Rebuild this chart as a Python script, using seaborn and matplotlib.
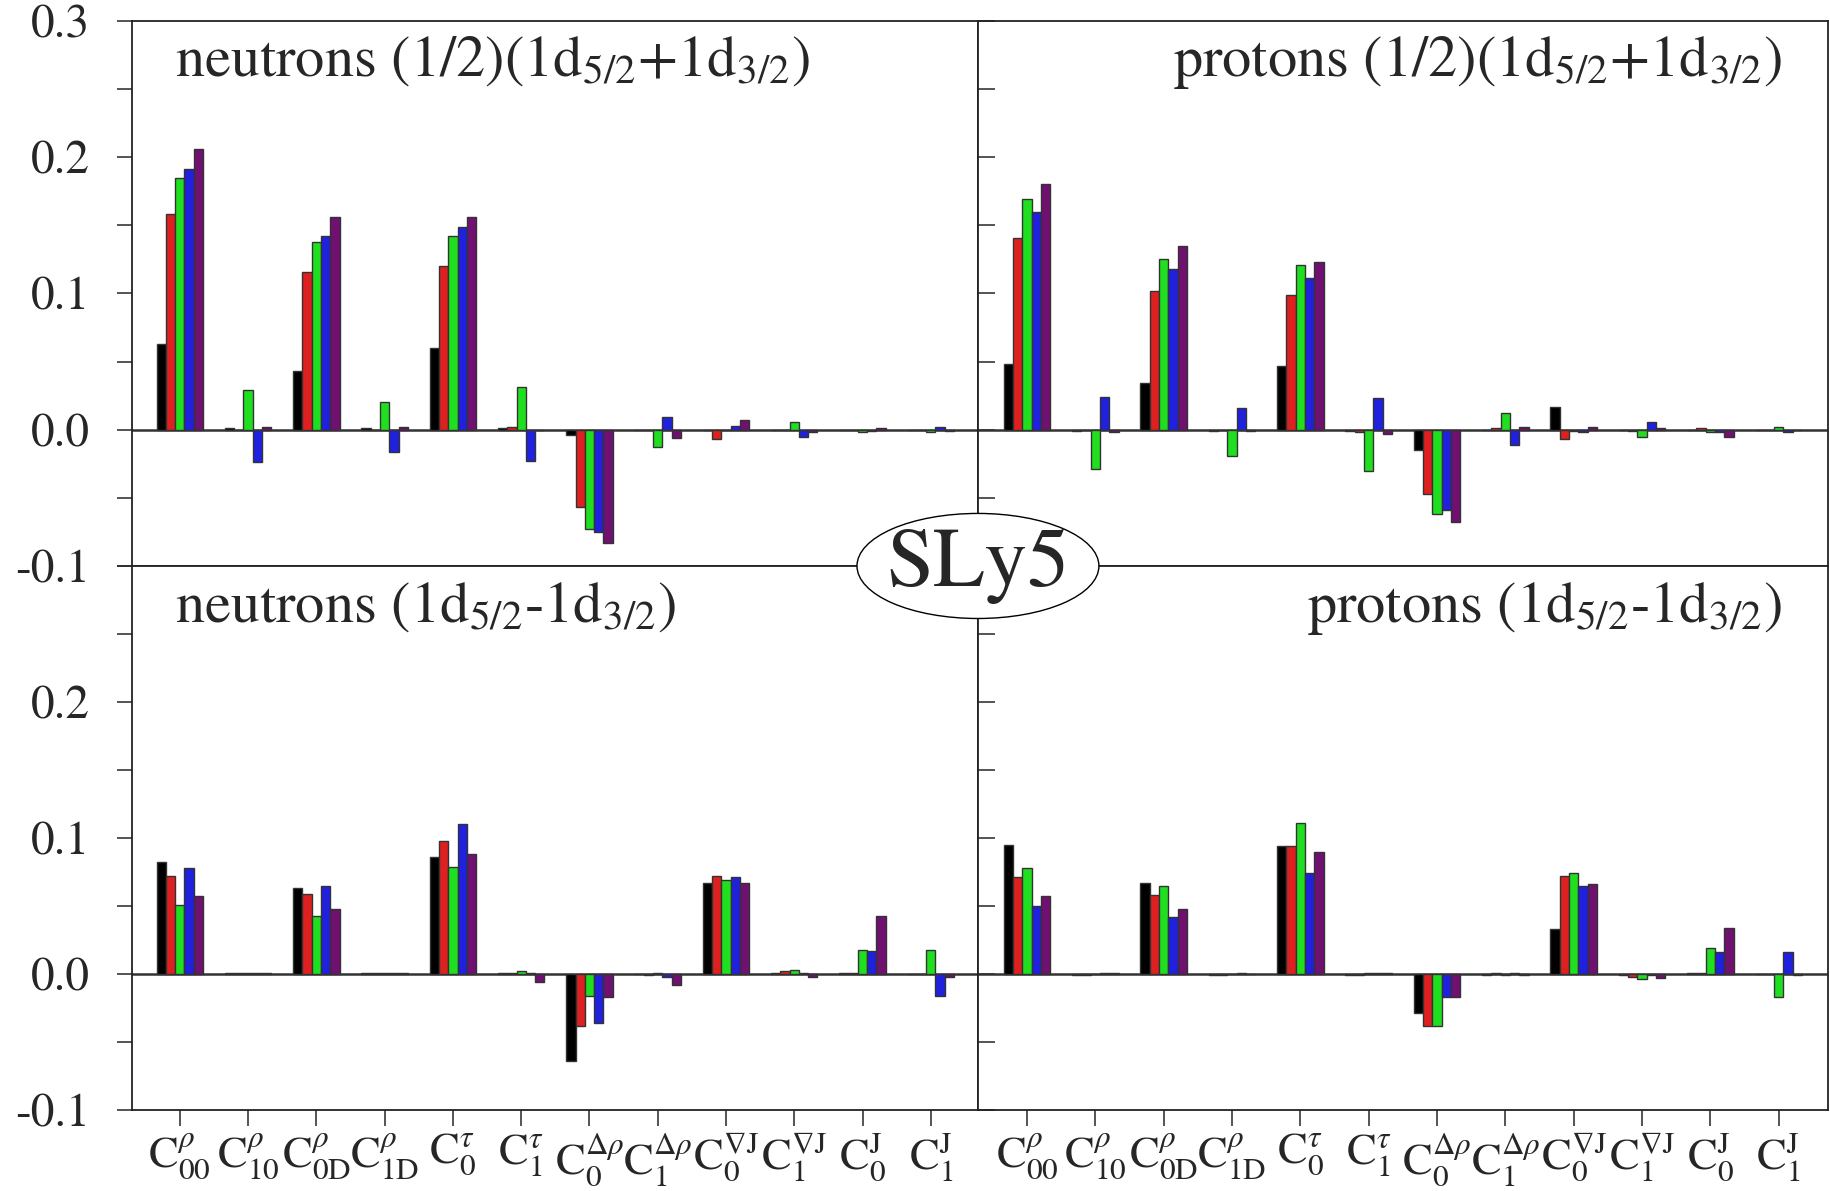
import numpy as np
import pandas as pd
import seaborn as sns
import matplotlib.pyplot as plt
from matplotlib.patches import Ellipse

# coupling-constant labels on the x axis
terms = [r'$\mathrm{C}^{\rho}_{00}$', r'$\mathrm{C}^{\rho}_{10}$', r'$\mathrm{C}^{\rho}_{0\mathrm{D}}$',
         r'$\mathrm{C}^{\rho}_{1\mathrm{D}}$', r'$\mathrm{C}^{\tau}_{0}$', r'$\mathrm{C}^{\tau}_{1}$',
         r'$\mathrm{C}^{\Delta\rho}_{0}$', r'$\mathrm{C}^{\Delta\rho}_{1}$', r'$\mathrm{C}^{\nabla\mathrm{J}}_{0}$',
         r'$\mathrm{C}^{\nabla\mathrm{J}}_{1}$', r'$\mathrm{C}^{\mathrm{J}}_{0}$', r'$\mathrm{C}^{\mathrm{J}}_{1}$']
series = ['s1', 's2', 's3', 's4', 's5']
colors = ['#000000', '#ff0000', '#00ff00', '#0000ff', '#800080']

# neutrons (1/2)(1d5/2+1d3/2), one row per series
n_sum = [
    [0.063, 0.001, 0.043, 0.001, 0.060, 0.001, -0.004, 0.000, 0.000, 0.000, 0.000, 0.000],
    [0.158, 0.000, 0.116, 0.000, 0.120, 0.002, -0.057, 0.000, -0.007, 0.000, 0.000, 0.000],
    [0.185, 0.029, 0.138, 0.020, 0.142, 0.031, -0.073, -0.013, 0.000, 0.006, -0.002, -0.002],
    [0.191, -0.024, 0.142, -0.016, 0.149, -0.023, -0.075, 0.009, 0.003, -0.005, -0.001, 0.002],
    [0.206, 0.002, 0.156, 0.002, 0.156, 0.000, -0.083, -0.006, 0.007, -0.002, 0.001, -0.001],
]
# protons (1/2)(1d5/2+1d3/2)
p_sum = [
    [0.048, -0.001, 0.034, -0.001, 0.047, -0.001, -0.015, 0.000, 0.017, 0.000, 0.000, 0.000],
    [0.141, 0.000, 0.102, 0.000, 0.099, -0.002, -0.047, 0.001, -0.007, -0.001, 0.001, 0.000],
    [0.169, -0.029, 0.125, -0.019, 0.121, -0.030, -0.062, 0.012, -0.001, -0.005, -0.002, 0.002],
    [0.160, 0.024, 0.118, 0.016, 0.111, 0.023, -0.059, -0.011, -0.002, 0.006, -0.002, -0.002],
    [0.180, -0.002, 0.135, -0.001, 0.123, -0.003, -0.068, 0.002, 0.002, 0.001, -0.005, 0.000],
]
# neutrons (1d5/2-1d3/2)
n_diff = [
    [0.082, 0.001, 0.063, 0.001, 0.086, 0.001, -0.064, 0.000, 0.067, 0.001, 0.001, 0.000],
    [0.072, 0.001, 0.059, 0.001, 0.098, 0.001, -0.038, -0.001, 0.072, 0.002, 0.001, 0.000],
    [0.051, 0.001, 0.043, 0.001, 0.079, 0.002, -0.016, 0.001, 0.069, 0.003, 0.018, 0.018],
    [0.078, 0.001, 0.065, 0.001, 0.110, 0.001, -0.036, -0.002, 0.071, 0.001, 0.017, -0.016],
    [0.057, 0.001, 0.048, 0.001, 0.088, -0.006, -0.017, -0.008, 0.067, -0.002, 0.043, -0.002],
]
# protons (1d5/2-1d3/2)
p_diff = [
    [0.095, -0.001, 0.067, -0.001, 0.094, -0.001, -0.029, -0.001, 0.033, -0.001, 0.001, 0.000],
    [0.071, -0.001, 0.058, -0.001, 0.094, -0.001, -0.038, 0.001, 0.072, -0.002, 0.001, 0.000],
    [0.078, 0.000, 0.065, 0.000, 0.111, 0.001, -0.038, -0.001, 0.074, -0.004, 0.019, -0.017],
    [0.050, 0.001, 0.042, 0.001, 0.074, 0.001, -0.017, 0.001, 0.065, -0.001, 0.016, 0.016],
    [0.057, 0.001, 0.048, 0.000, 0.090, 0.001, -0.017, -0.001, 0.066, -0.003, 0.034, -0.001],
]

titles = [r'neutrons (1/2)(1d$_{5/2}$+1d$_{3/2}$)', r'protons (1/2)(1d$_{5/2}$+1d$_{3/2}$)',
          r'neutrons (1d$_{5/2}$-1d$_{3/2}$)', r'protons (1d$_{5/2}$-1d$_{3/2}$)']

sns.set_style('ticks')
plt.rcParams['font.family'] = ['STIXGeneral', 'DejaVu Serif']
plt.rcParams['mathtext.fontset'] = 'stix'
plt.rcParams['axes.unicode_minus'] = False

fig = plt.figure(figsize=(18.3, 11.91), dpi=100)

lx, lw = 0.0721, 0.4623
rx, rw = 0.5344, 0.4645
ty, th = 0.5248, 0.4576
by, bh = 0.0680, 0.4568
rects = [(lx, ty, lw, th), (rx, ty, rw, th), (lx, by, lw, bh), (rx, by, rw, bh)]
panels = [n_sum, p_sum, n_diff, p_diff]
xlims = [(-0.70, 11.69), (-0.717, 11.72), (-0.70, 11.69), (-0.717, 11.72)]

for k, (vals, rect) in enumerate(zip(panels, rects)):
    ax = fig.add_axes(rect)
    df = pd.DataFrame({
        'term': np.tile(terms, len(series)),
        'series': np.repeat(series, len(terms)),
        'value': np.concatenate(vals),
    })
    sns.barplot(data=df, x='term', y='value', hue='series', order=terms, hue_order=series,
                palette=colors, width=0.68, edgecolor='#333333', linewidth=1.0,
                legend=False, ax=ax, zorder=3)
    ax.axhline(0, color='#333333', lw=1.8, zorder=2)
    ax.set_xlim(*xlims[k])
    ax.set_ylim(-0.1, 0.3)
    ax.set_xlabel('')
    ax.set_ylabel('')
    for sp in ax.spines.values():
        sp.set_visible(True)
        sp.set_linewidth(1.3)
        sp.set_color('#222222')

    left = k % 2 == 0
    top = k < 2
    ax.set_yticks([-0.1, 0.0, 0.1, 0.2, 0.3])
    ax.set_yticks([-0.05, 0.05, 0.15, 0.25], minor=True)
    if left:
        labs = ['-0.1', '0.0', '0.1', '0.2', '0.3'] if top else ['-0.1', '0.0', '0.1', '0.2', '']
        ax.set_yticklabels(labs, fontsize=34)
        ax.tick_params(axis='y', which='both', direction='out', length=11, width=1.1, pad=19)
    else:
        ax.set_yticklabels([])
        ax.tick_params(axis='y', which='both', direction='in', length=12, width=1.1)

    ax.set_xticks(range(len(terms)))
    if top:
        ax.set_xticklabels([])
        ax.tick_params(axis='x', direction='out', length=10, width=1.1)
    else:
        ax.set_xticklabels(terms, fontsize=32)
        ax.tick_params(axis='x', direction='out', length=11.5, width=1.1, pad=4)

    yb = 0.899 if top else 0.897
    if left:
        ax.text(0.051, yb, titles[k], transform=ax.transAxes,
                ha='left', va='baseline', fontsize=42)
    else:
        ax.text(0.947, yb, titles[k], transform=ax.transAxes,
                ha='right', va='baseline', fontsize=42)

# SLy5 label in the middle
fig.add_artist(Ellipse((0.5344, 0.5248), 0.1322, 0.0882, transform=fig.transFigure,
                       facecolor='white', edgecolor='black', lw=1.0, zorder=10))
fig.text(0.5344, 0.5248, 'SLy5', ha='center', va='center', fontsize=61, zorder=11)

plt.savefig('out.png', dpi=100)
